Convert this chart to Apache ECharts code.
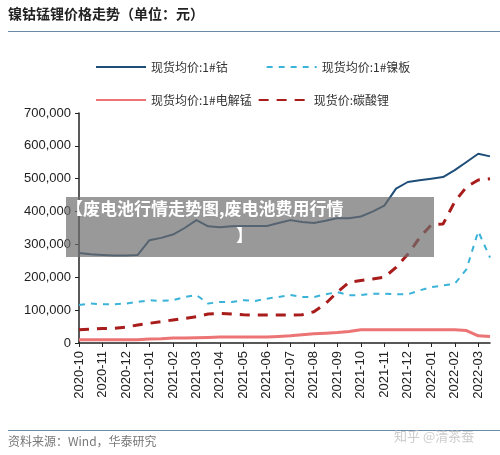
<!DOCTYPE html>
<html>
<head>
<meta charset="UTF-8"/>
<title>镍钴锰锂价格走势</title>
<script src="https://cdn.jsdelivr.net/npm/echarts@6/dist/echarts.min.js"></script>
<style>
  html, body { margin: 0; padding: 0; background: #fff; }
  #chart { width: 500px; height: 455px; }
</style>
</head>
<body>
<div id="chart"></div>
<script>
// half-month steps starting 2020-10; tick labels on each month
var months = ['2020-10','2020-11','2020-12','2021-01','2021-02','2021-03','2021-04','2021-05','2021-06',
  '2021-07','2021-08','2021-09','2021-10','2021-11','2021-12','2022-01','2022-02','2022-03'];
var seriesNames = ['现货均价:1#钴', '现货均价:1#镍板', '现货均价:1#电解锰', '现货价:碳酸锂'];
// values in thousands of yuan
var cobalt = [274,270,268,266,266,268,313,320,330,350,374,355,352,355,356,356,356,365,374,368,365,372,380,380,385,400,418,470,490,495,500,505,526,551,576,568];
var nickel = [116,120,118,118,120,125,130,128,130,140,146,120,125,125,130,128,135,140,146,140,140,148,155,145,146,150,150,148,148,160,170,175,180,225,340,260];
var manganese = [10,10,10,10,10,10,12,13,15,15,16,17,18,18,18,18,18,20,22,25,28,30,32,35,40,40,40,40,40,40,40,40,40,38,22,20];
var lithium = [40,42,44,45,48,55,60,65,70,75,80,88,90,88,86,85,85,85,85,86,95,120,155,185,190,195,200,230,270,320,360,362,430,475,496,500];

var cats = [];
for (var i = 0; i < cobalt.length; i++) {
  cats.push(i % 2 === 0 && months[i / 2] ? months[i / 2] : '');
}
function k(arr) { return arr.map(function (v) { return v * 1000; }); }

var font = '"Noto Sans CJK SC", sans-serif';
var legendCommon = { left: 90, itemWidth: 50, itemHeight: 10, itemStyle: { opacity: 0 },
  textStyle: { fontSize: 12, color: '#333' } };
var chart = echarts.init(document.getElementById('chart'));
chart.setOption({
  animation: false,
  textStyle: { fontFamily: font },
  grid: { left: 79, right: 10, top: 113, bottom: 112 },
  legend: [
    Object.assign({ data: [seriesNames[0], seriesNames[1]], top: 56, itemGap: 38 }, legendCommon),
    Object.assign({ data: [seriesNames[2], seriesNames[3]], top: 89, itemGap: 6 }, legendCommon)
  ],
  xAxis: {
    type: 'category', data: cats, boundaryGap: false,
    axisLine: { lineStyle: { color: '#222', width: 1.5 } },
    axisTick: { interval: function (i) { return i % 2 === 0; }, length: 4, lineStyle: { color: '#222' } },
    axisLabel: { interval: function (i) { return i % 2 === 0; }, rotate: 90, fontSize: 13, color: '#222',
      fontFamily: 'Liberation Sans, Arial', margin: 8 }
  },
  yAxis: {
    type: 'value', min: 0, max: 700000, interval: 100000,
    axisLine: { show: true, lineStyle: { color: '#222', width: 1.5 } },
    axisTick: { show: true, length: 4, lineStyle: { color: '#222' } },
    splitLine: { show: false },
    axisLabel: { fontSize: 13, color: '#222', fontFamily: 'Liberation Sans, Arial',
      formatter: function (v) { return v.toLocaleString('en-US'); } }
  },
  series: [
    { name: seriesNames[0], type: 'line', data: k(cobalt), symbol: 'none', z: 4,
      lineStyle: { color: '#1f4e79', width: 2 }, itemStyle: { color: '#1f4e79' } },
    { name: seriesNames[1], type: 'line', data: k(nickel), symbol: 'none', z: 3,
      lineStyle: { color: '#3bb3d9', width: 2, type: [6, 6] }, itemStyle: { color: '#3bb3d9' } },
    { name: seriesNames[2], type: 'line', data: k(manganese), symbol: 'none', z: 2,
      lineStyle: { color: '#ec7474', width: 3 }, itemStyle: { color: '#ec7474' } },
    { name: seriesNames[3], type: 'line', data: k(lithium), symbol: 'none', z: 2,
      lineStyle: { color: '#a81c1c', width: 3, type: [10, 8] }, itemStyle: { color: '#a81c1c' } }
  ],
  graphic: [
    { type: 'text', left: 8, top: 7, style: { text: '镍钴锰锂价格走势（单位：元）', font: 'bold 14px ' + font, fill: '#222' } },
    { type: 'rect', shape: { x: 8, y: 31, width: 492, height: 1 }, style: { fill: '#6a8aa8' } },
    { type: 'rect', shape: { x: 8, y: 430, width: 492, height: 1 }, style: { fill: '#6a8aa8' } },
    { type: 'text', left: 8, top: 435, style: { text: '资料来源：Wind，华泰研究', font: '12px ' + font, fill: '#777' } },
    { type: 'text', left: 394, top: 430, style: { text: '知乎 @清茶蚕', font: '13px ' + font, fill: 'rgba(200,200,200,0.9)' } },
    { type: 'rect', z: 100, shape: { x: 66, y: 197, width: 368, height: 60 }, style: { fill: 'rgba(110,110,110,0.7)' } },
    { type: 'text', z: 101, left: 66, top: 200, style: { text: '【废电池行情走势图,废电池费用行情', font: 'bold 17px ' + font, fill: '#fff' } },
    { type: 'text', z: 101, left: 236, top: 227, style: { text: '】', font: 'bold 17px ' + font, fill: '#fff' } }
  ]
});
</script>
</body>
</html>
